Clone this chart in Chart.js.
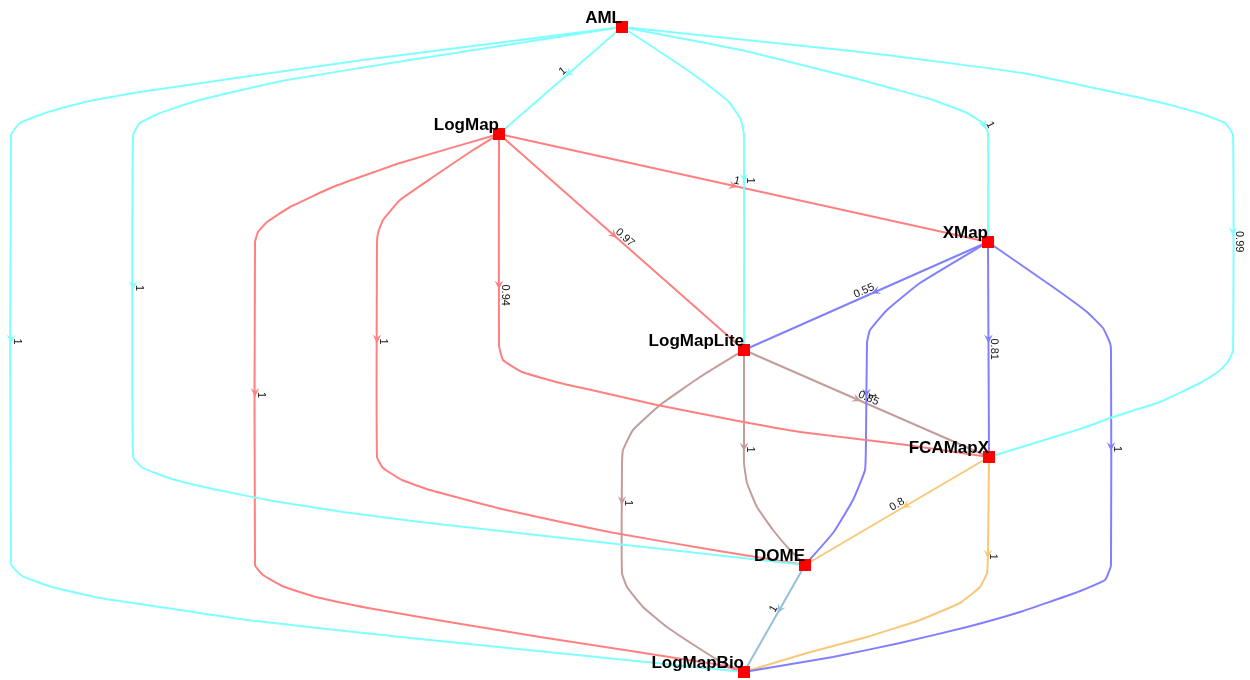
<!DOCTYPE html>
<html><head><meta charset="utf-8">
<script src="https://cdn.jsdelivr.net/npm/chart.js@4.4.0/dist/chart.umd.min.js"></script>
<style>html,body{margin:0;padding:0;background:#fff;}#wrap{width:1250px;height:680px;position:relative;}</style>
</head><body><div id="wrap"><canvas id="c" width="1250" height="680"></canvas></div>
<script>
// ---- data (graph layout) ----
const nodeNames = ['AML','LogMap','XMap','LogMapLite','FCAMapX','DOME','LogMapBio'];
const nodeX = [622, 499, 988, 744, 989, 805, 744];
const nodeY = [27, 134, 242, 350, 457, 565, 672];

const edgeFrom = ['AML','AML','AML','AML','AML','AML',
  'LogMap','LogMap','LogMap','LogMap','LogMap',
  'XMap','XMap','XMap','XMap',
  'LogMapLite','LogMapLite','LogMapLite',
  'FCAMapX','FCAMapX','DOME'];
const edgeTo = ['LogMap','LogMapLite','XMap','FCAMapX','DOME','LogMapBio',
  'XMap','LogMapLite','FCAMapX','DOME','LogMapBio',
  'LogMapLite','FCAMapX','DOME','LogMapBio',
  'FCAMapX','DOME','LogMapBio',
  'DOME','LogMapBio','LogMapBio'];
const edgeWeight = ['1','1','1','0.99','1','1',
  '1','0.97','0.94','1','1',
  '0.55','0.81','1','1',
  '0.85','1','1',
  '0.8','1','1'];
// intermediate bend points of each edge path
const edgeBends = [
  [],
  [[668,57],[704,82],[729,102],[741,120],[744,135]],
  [[741,50],[861,80],[933,100],[967,113],[983,123],[988,133]],
  [[861,52],[1022,73],[1159,102],[1199,113],[1225,123],[1233,135],[1233,350],[1228,362],[1218,372],[1200,383],[1160,402],[1113,417],[1080,429]],
  [[410,60],[287,80],[233,92],[193,102],[160,113],[140,123],[133,135],[133,457],[143,468],[172,479],[213,489],[273,501],[343,512],[420,522]],
  [[363,60],[140,92],[85,102],[45,113],[20,123],[11,135],[11,564],[22,576],[52,587],[100,598],[167,608],[247,620],[420,639]],
  [],
  [],
  [[499,345],[503,360],[522,372],[560,383],[600,392],[657,405],[733,420],[800,432],[907,445]],
  [[473,150],[433,177],[400,200],[383,220],[378,233],[377,243],[377,457],[383,468],[402,480],[430,490],[506,510],[609,532],[713,550]],
  [[400,163],[333,187],[290,207],[267,222],[258,232],[255,242],[255,565],[263,575],[282,586],[316,597],[368,608],[437,620],[540,637],[644,653],[720,665]],
  [],
  [],
  [[920,283],[887,310],[870,330],[867,343],[866,440],[865,470],[853,500],[833,533]],
  [[1053,287],[1087,312],[1103,328],[1110,343],[1111,350],[1111,565],[1105,580],[1075,593],[1020,612],[967,627],[900,643],[833,657]],
  [],
  [[744,440],[744,463],[747,483],[757,507],[773,530],[790,550]],
  [[700,377],[660,405],[633,430],[623,450],[622,467],[622,573],[627,587],[643,607],[667,627],[697,647],[723,663]],
  [],
  [[988,550],[987,573],[980,587],[960,603],[920,620],[867,637],[807,653]],
  []
];

// ---- styles ----
const sourceColor = {AML:'#80ffff', LogMap:'#ff8080', XMap:'#8080ff', LogMapLite:'#c49c9c', FCAMapX:'#f8c87a', DOME:'#94c0de'};
const nodeFont = 'bold 17px "Liberation Sans", Arial, sans-serif';
const edgeFont = '11px "Liberation Sans", Arial, sans-serif';

function idx(n){ return nodeNames.indexOf(n); }

const datasets = [];
datasets.push({
  label:'nodes',
  data: nodeX.map((x,i)=>({x:x, y:nodeY[i]})),
  showLine:false, pointStyle:'rect', pointRadius:8.5, pointHoverRadius:8.5,
  backgroundColor:'#ff0000', borderWidth:0, order:0, clip:false
});
edgeFrom.forEach((f,i)=>{
  const a=idx(f), b=idx(edgeTo[i]);
  const pts=[{x:nodeX[a],y:nodeY[a]}]
    .concat(edgeBends[i].map(p=>({x:p[0],y:p[1]})))
    .concat([{x:nodeX[b],y:nodeY[b]}]);
  datasets.push({label:f+'-'+edgeTo[i], data:pts, showLine:true, borderColor:sourceColor[f],
    borderWidth:2, pointRadius:0, pointHoverRadius:0, tension:0.12, borderJoinStyle:'round',
    fill:false, clip:false, order:1});
});

const graphPlugin = {
  id:'graphDecor',
  afterDatasetsDraw(chart){
    const ctx=chart.ctx, ys=chart.scales.y;
    ctx.save();
    edgeFrom.forEach((f,i)=>{
      const meta=chart.getDatasetMeta(i+1);
      const pts=meta.data.map(e=>({x:e.x,y:e.y}));
      const cum=[0];
      for(let k=1;k<pts.length;k++){cum.push(cum[k-1]+Math.hypot(pts[k].x-pts[k-1].x,pts[k].y-pts[k-1].y));}
      const total=cum[cum.length-1];
      const midY=(ys.getPixelForValue(nodeY[idx(f)])+ys.getPixelForValue(nodeY[idx(edgeTo[i])]))/2;
      let sMid=total/2;
      for(let k=1;k<pts.length;k++){
        const p0=pts[k-1],p1=pts[k];
        if(p0.y<=midY && p1.y>=midY && p1.y!==p0.y){
          const t=(midY-p0.y)/(p1.y-p0.y);
          sMid=cum[k-1]+t*(cum[k]-cum[k-1]); break;
        }
      }
      function at(s){
        for(let k=1;k<pts.length;k++){
          if(s<=cum[k] || k===pts.length-1){
            const len=cum[k]-cum[k-1]||1;
            const t=Math.max(0,Math.min(1,(s-cum[k-1])/len));
            return {x:pts[k-1].x+t*(pts[k].x-pts[k-1].x), y:pts[k-1].y+t*(pts[k].y-pts[k-1].y),
                    dx:(pts[k].x-pts[k-1].x)/len, dy:(pts[k].y-pts[k-1].y)/len};
          }
        }
      }
      const tip=at(sMid-6);
      const dx=tip.dx, dy=tip.dy, L=9, W=4.3;
      ctx.fillStyle=sourceColor[f];
      ctx.beginPath();
      ctx.moveTo(tip.x,tip.y);
      ctx.lineTo(tip.x-L*dx-W*dy, tip.y-L*dy+W*dx);
      ctx.lineTo(tip.x-0.6*L*dx, tip.y-0.6*L*dy);
      ctx.lineTo(tip.x-L*dx+W*dy, tip.y-L*dy-W*dx);
      ctx.closePath(); ctx.fill();
      // label
      const an=at(sMid-11);
      let ang=Math.atan2(an.dy,an.dx);
      let align='left';
      if(Math.cos(ang)<-0.05){ ang+=Math.PI; align='right'; }
      ctx.save();
      ctx.translate(an.x,an.y);
      ctx.rotate(ang);
      ctx.font=edgeFont; ctx.fillStyle='#111'; ctx.textAlign=align; ctx.textBaseline='alphabetic';
      ctx.fillText(edgeWeight[i],0,-2.5);
      ctx.restore();
    });
    // node labels
    const nm=chart.getDatasetMeta(0);
    ctx.font=nodeFont; ctx.fillStyle='#000'; ctx.textAlign='right'; ctx.textBaseline='alphabetic';
    nm.data.forEach((p,i)=>{ ctx.fillText(nodeNames[i], p.x, p.y-4.5); });
    ctx.restore();
  }
};

new Chart(document.getElementById('c'),{
  type:'scatter',
  data:{datasets:datasets},
  options:{
    responsive:false, animation:false, events:[],
    layout:{padding:0, autoPadding:false},
    plugins:{legend:{display:false}, tooltip:{enabled:false}},
    scales:{
      x:{type:'linear', min:0, max:1250, display:false},
      y:{type:'linear', min:0, max:680, reverse:true, display:false}
    }
  },
  plugins:[graphPlugin]
});
</script></body></html>
